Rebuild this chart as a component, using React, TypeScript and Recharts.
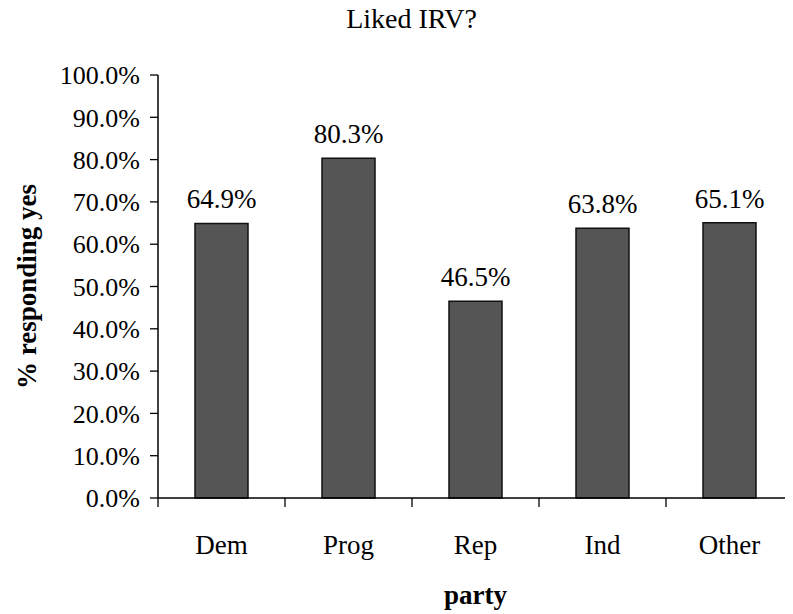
import { BarChart, Bar, XAxis, YAxis, LabelList } from 'recharts'

const parties = ['Dem', 'Prog', 'Rep', 'Ind', 'Other']
const likedIrv = [0.649, 0.803, 0.465, 0.638, 0.651]
const yTicks = [0, 0.1, 0.2, 0.3, 0.4, 0.5, 0.6, 0.7, 0.8, 0.9, 1.0]

const data = parties.map((party, i) => ({ party, yes: likedIrv[i] }))

const FONT = '"Liberation Serif", "Times New Roman", serif'
const pct = (v: number) => `${(v * 100).toFixed(1)}%`

// category label centred in the band, tick mark on the band's left edge
function PartyTick(props: any) {
  const { x, y, payload } = props
  const left = x - (payload.offset ?? 0)
  return (
    <g>
      <line x1={left} x2={left} y1={y} y2={y + 9} stroke="#000" strokeWidth={1.3} />
      <text x={x} y={y + 56} textAnchor="middle" fontSize={27} fontFamily={FONT} fill="#000">
        {payload.value}
      </text>
    </g>
  )
}

export default function App() {
  return (
    <div style={{ position: 'relative', width: 785, height: 606 }}>
      <div
        style={{
          position: 'absolute',
          top: -3,
          left: 0,
          width: 785,
          textAlign: 'center',
          fontFamily: FONT,
          fontSize: 28,
          lineHeight: '28px'
        }}
      >
        <span style={{ position: 'relative', left: 11 }}>Liked IRV?</span>
      </div>
      <BarChart
        width={785}
        height={606}
        data={data}
        margin={{ top: 67, right: 0, bottom: 0, left: 0 }}
        barSize={53}
      >
        <XAxis
          dataKey="party"
          height={116}
          tickSize={0}
          tickMargin={0}
          tick={<PartyTick />}
          axisLine={{ stroke: '#000', strokeWidth: 1.5 }}
          interval={0}
          label={{
            content: ({ viewBox }: any) => (
              <text
                x={viewBox.x + viewBox.width / 2}
                y={viewBox.y + 106}
                textAnchor="middle"
                fontSize={27}
                fontWeight="bold"
                fontFamily={FONT}
                fill="#000"
              >
                party
              </text>
            )
          }}
        />
        <YAxis
          width={150}
          domain={[0, 1]}
          ticks={yTicks}
          tickFormatter={pct}
          tickSize={8}
          tickMargin={10}
          tickLine={{ stroke: '#000', strokeWidth: 1.3 }}
          axisLine={{ stroke: '#000', strokeWidth: 1.5 }}
          tick={{ fill: '#000', fontSize: 26, fontFamily: FONT }}
          interval={0}
          label={{
            content: ({ viewBox }: any) => {
              const cx = 28
              const cy = viewBox.y + viewBox.height / 2
              return (
                <text
                  x={cx}
                  y={cy}
                  transform={`rotate(-90 ${cx} ${cy})`}
                  textAnchor="middle"
                  fontSize={27}
                  fontWeight="bold"
                  fontFamily={FONT}
                  fill="#000"
                >
                  % responding yes
                </text>
              )
            }
          }}
        />
        <Bar dataKey="yes" fill="#555" stroke="#111" strokeWidth={1.5} isAnimationActive={false}>
          <LabelList
            dataKey="yes"
            position="top"
            offset={15}
            formatter={(v: any) => pct(Number(v))}
            style={{ fill: '#000', fontSize: 27, fontFamily: FONT }}
          />
        </Bar>
      </BarChart>
    </div>
  )
}
